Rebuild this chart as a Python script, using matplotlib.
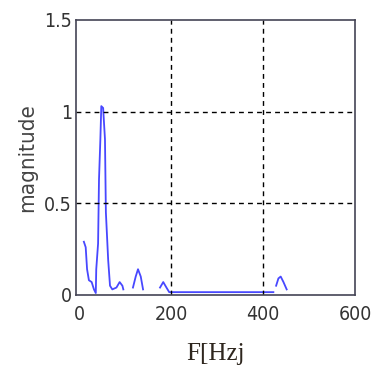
import numpy as np
import matplotlib.pyplot as plt

# spectrum, segments split by nan
freq = [9, 13, 16, 20, 26, 31, 35, 36, 40, 42, 45, 47, 51, 55, 57, 62, 66, 71, 80, 87, 93, 95,
        np.nan,
        116, 122, 127, 133, 138,
        np.nan,
        175, 182, 189, 195, 250, 300, 350, 422,
        np.nan,
        428, 433, 438, 444, 451]
mag = [0.29, 0.26, 0.14, 0.08, 0.07, 0.03, 0.01, 0.14, 0.28, 0.63, 0.85, 1.03, 1.02, 0.85, 0.45, 0.19, 0.05, 0.03, 0.04, 0.07, 0.05, 0.03,
       np.nan,
       0.04, 0.10, 0.14, 0.10, 0.03,
       np.nan,
       0.04, 0.07, 0.04, 0.015, 0.015, 0.015, 0.015, 0.015,
       np.nan,
       0.05, 0.09, 0.10, 0.07, 0.03]

xticks = [0, 200, 400, 600]
xtick_labels = ["0", "200", "400", "600"]
yticks = [0, 0.5, 1, 1.5]
ytick_labels = ["0", "0.5", "1", "1.5"]

fig = plt.figure(figsize=(3.71, 3.70), dpi=100)
ax = fig.add_axes([0.205, 0.203, 0.752, 0.743])

ax.plot(freq, mag, color="#4848ff", linewidth=1.3)

ax.set_xlim(-8, 600)
ax.set_ylim(0, 1.5)
ax.set_xticks(xticks)
ax.set_xticklabels(xtick_labels)
ax.set_yticks(yticks)
ax.set_yticklabels(ytick_labels)
ax.tick_params(axis="x", length=0, pad=7, labelcolor="#333333")
ax.tick_params(axis="y", length=0, pad=3, labelcolor="#333333")
for lab in ax.get_xticklabels() + ax.get_yticklabels():
    lab.set_family("DejaVu Sans")
    lab.set_stretch("condensed")
    lab.set_fontsize(14)

for x in [200, 400]:
    ax.axvline(x, color="black", linestyle=(0, (3.5, 3)), linewidth=1)
for y in [0.5, 1]:
    ax.axhline(y, color="black", linestyle=(0, (3.5, 3)), linewidth=1)

for s in ax.spines.values():
    s.set_color("#444455")
    s.set_linewidth(1.2)

ax.set_ylabel("magnitude", fontsize=16, color="#444444", labelpad=5,
              family="DejaVu Sans", stretch="condensed")
ax.set_xlabel("F[Hzj", fontsize=18, color="#2e261e", family="Liberation Serif", labelpad=14)

fig.savefig("out.png", dpi=100)
